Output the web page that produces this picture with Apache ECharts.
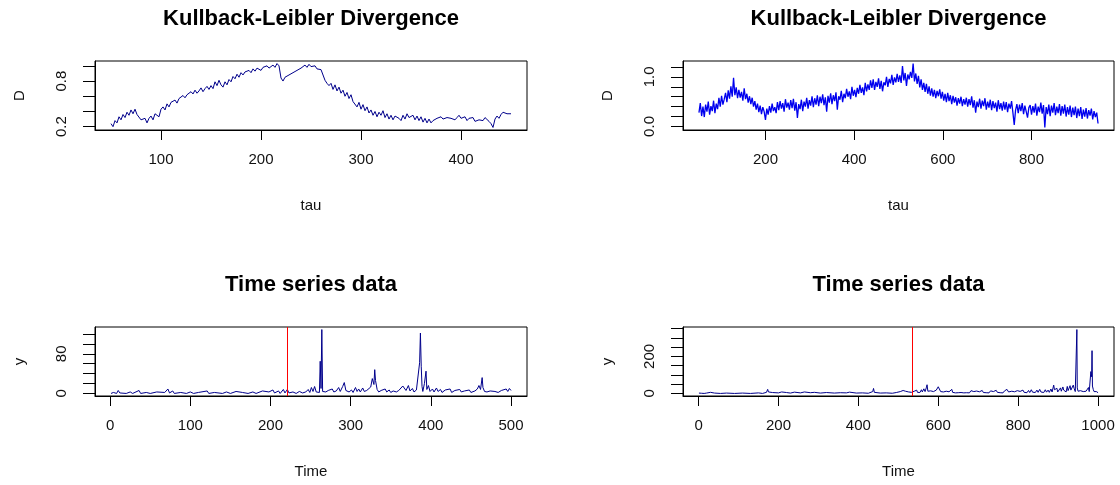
<!DOCTYPE html>
<html>
<head>
<meta charset="utf-8">
<title>Kullback-Leibler Divergence</title>
<script src="https://cdn.jsdelivr.net/npm/echarts@6/dist/echarts.min.js"></script>
<style>
  html, body { margin: 0; padding: 0; background: #fff; }
  #chart { width: 1120px; height: 485px; }
</style>
</head>
<body>
<div id="chart"></div>
<script>
// top-left: KL divergence, tau = 50, 52, ..., 450
const klLeftTau0 = 50;
const klLeftStep = 2;
const klLeftD = [
  0.24, 0.20, 0.28, 0.25, 0.33, 0.29, 0.36, 0.32, 0.39, 0.35,
  0.42, 0.37, 0.43, 0.36, 0.35, 0.29, 0.27, 0.31, 0.25, 0.31,
  0.34, 0.29, 0.37, 0.35, 0.33, 0.43, 0.46, 0.42, 0.50, 0.46,
  0.52, 0.50, 0.55, 0.51, 0.57, 0.55, 0.61, 0.58, 0.62, 0.60,
  0.66, 0.63, 0.68, 0.64, 0.67, 0.71, 0.66, 0.70, 0.73, 0.69,
  0.74, 0.70, 0.79, 0.74, 0.81, 0.75, 0.72, 0.79, 0.75, 0.82,
  0.79, 0.86, 0.83, 0.89, 0.85, 0.91, 0.88, 0.92, 0.90, 0.94,
  0.91, 0.96, 0.93, 0.97, 0.95, 0.94, 0.98, 0.96, 1.00, 0.97,
  0.99, 1.01, 0.98, 1.03, 1.00, 0.84, 0.80, 0.85, 0.83, 0.88,
  0.86, 0.91, 0.89, 0.94, 0.92, 0.97, 0.95, 1.01, 0.98, 1.02,
  0.99, 0.97, 1.00, 0.96, 0.98, 0.95, 0.93, 0.81, 0.77, 0.74,
  0.77, 0.69, 0.75, 0.67, 0.72, 0.64, 0.68, 0.60, 0.65, 0.57,
  0.62, 0.53, 0.54, 0.46, 0.52, 0.43, 0.49, 0.41, 0.46, 0.38,
  0.42, 0.35, 0.40, 0.33, 0.39, 0.35, 0.41, 0.32, 0.37, 0.30,
  0.35, 0.29, 0.34, 0.36, 0.31, 0.28, 0.35, 0.30, 0.37, 0.32,
  0.32, 0.35, 0.29, 0.34, 0.28, 0.33, 0.26, 0.31, 0.25, 0.30,
  0.25, 0.28, 0.26, 0.31, 0.29, 0.33, 0.30, 0.28, 0.32, 0.34,
  0.31, 0.33, 0.29, 0.32, 0.35, 0.31, 0.30, 0.33, 0.28, 0.31,
  0.29, 0.32, 0.27, 0.25, 0.29, 0.31, 0.28, 0.32, 0.30, 0.27,
  0.24, 0.19, 0.30, 0.34, 0.31, 0.36, 0.39, 0.41, 0.37, 0.39,
  0.37
];

// top-right: KL divergence, tau = 50, 53, ..., 950
const klRightTau0 = 50;
const klRightStep = 3;
const klRightD = [
  0.28, 0.47, 0.21, 0.40, 0.19, 0.44, 0.30, 0.50, 0.24, 0.41,
  0.31, 0.52, 0.27, 0.46, 0.35, 0.58, 0.40, 0.62, 0.44, 0.55,
  0.68, 0.49, 0.73, 0.56, 0.81, 0.60, 0.98, 0.63, 0.79, 0.57,
  0.74, 0.58, 0.70, 0.52, 0.77, 0.55, 0.66, 0.48, 0.61, 0.45,
  0.58, 0.40, 0.51, 0.34, 0.46, 0.29, 0.42, 0.25, 0.39, 0.30,
  0.13, 0.36, 0.24, 0.41, 0.28, 0.46, 0.31, 0.39, 0.27, 0.49,
  0.33, 0.51, 0.36, 0.47, 0.30, 0.55, 0.38, 0.48, 0.34, 0.53,
  0.37, 0.56, 0.32, 0.49, 0.17, 0.45, 0.35, 0.54, 0.31, 0.50,
  0.40, 0.58, 0.36, 0.53, 0.42, 0.61, 0.39, 0.57, 0.44, 0.63,
  0.41, 0.60, 0.47, 0.65, 0.43, 0.59, 0.30, 0.62, 0.48, 0.67,
  0.45, 0.63, 0.51, 0.69, 0.34, 0.61, 0.54, 0.72, 0.49, 0.66,
  0.57, 0.76, 0.60, 0.71, 0.55, 0.80, 0.62, 0.74, 0.59, 0.78,
  0.66, 0.84, 0.68, 0.79, 0.63, 0.88, 0.71, 0.85, 0.74, 0.93,
  0.78, 0.95, 0.74, 0.90, 0.80, 0.97, 0.76, 0.92, 0.71, 0.89,
  0.83, 1.00, 0.80, 0.96, 0.87, 1.04, 0.84, 0.99, 0.89, 1.06,
  0.90, 1.03, 0.88, 1.22, 0.93, 1.08, 0.82, 1.05, 0.95, 1.10,
  0.98, 1.27, 0.91, 1.07, 0.86, 1.02, 0.79, 0.95, 0.74, 0.88,
  0.70, 0.86, 0.66, 0.81, 0.62, 0.77, 0.60, 0.74, 0.57, 0.72,
  0.61, 0.75, 0.56, 0.70, 0.52, 0.66, 0.49, 0.68, 0.51, 0.63,
  0.45, 0.62, 0.48, 0.59, 0.42, 0.57, 0.46, 0.60, 0.41, 0.55,
  0.44, 0.58, 0.40, 0.55, 0.43, 0.61, 0.38, 0.53, 0.28, 0.50,
  0.39, 0.56, 0.36, 0.52, 0.41, 0.57, 0.34, 0.50, 0.38, 0.54,
  0.33, 0.51, 0.37, 0.48, 0.30, 0.53, 0.35, 0.47, 0.32, 0.50,
  0.34, 0.49, 0.29, 0.46, 0.36, 0.51, 0.28, 0.03, 0.33, 0.45,
  0.27, 0.44, 0.31, 0.47, 0.25, 0.42, 0.30, 0.18, 0.38, 0.43,
  0.24, 0.41, 0.28, 0.46, 0.22, 0.40, 0.29, 0.48, 0.26, 0.43,
  -0.02, 0.39, 0.25, 0.44, 0.21, 0.42, 0.28, 0.47, 0.23, 0.40,
  0.27, 0.45, 0.22, 0.41, 0.26, 0.44, 0.20, 0.39, 0.24, 0.42,
  0.19, 0.38, 0.23, 0.40, 0.17, 0.36, 0.21, 0.39, 0.15, 0.34,
  0.20, 0.37, 0.16, 0.33, 0.22, 0.36, 0.14, 0.31, 0.19, 0.28,
  0.06
];

// bottom-left: time series, [Time, y]
const tsLeft = [
  [1,0],[4,2],[6,5],[8,0],[10,6],[12,1],[20,0],[25,3],[28,0],[36,6],[38,0],[45,2],[50,0],
  [58,3],[60,0],[68,2],[72,9],[74,1],[78,5],[80,0],[88,2],[95,0],[100,3],[104,0],[110,2],
  [121,5],[123,0],[130,2],[140,0],[145,3],[150,0],[157,4],[159,0],[165,2],[172,0],[178,3],
  [182,0],[190,5],[192,1],[198,3],[203,7],[205,1],[210,5],[212,0],[216,8],[218,1],[221,8],
  [223,1],[228,3],[232,0],[236,4],[240,1],[244,3],[247,8],[249,2],[251,12],[253,4],[255,14],
  [257,3],[259,6],[261,2],[262,65],[263,10],[264,129],[265,4],[267,8],[269,3],[272,6],[274,2],
  [277,9],[279,3],[282,5],[285,12],[287,4],[290,14],[292,22],[294,6],[296,10],[298,3],[301,7],
  [303,2],[306,12],[308,4],[310,9],[312,3],[315,11],[317,4],[320,6],[322,2],[325,13],[327,30],
  [329,18],[330,48],[331,26],[333,8],[335,3],[338,6],[340,2],[343,9],[345,3],[348,7],[350,2],
  [353,5],[355,8],[357,3],[360,6],[362,2],[365,15],[367,19],[369,6],[372,16],[374,5],[377,10],
  [379,3],[382,7],[384,3],[386,62],[387,122],[388,55],[389,14],[390,4],[392,20],[394,45],
  [395,8],[397,16],[399,4],[402,9],[404,3],[407,11],[409,4],[412,8],[414,2],[418,7],[420,3],
  [424,9],[426,2],[430,6],[432,2],[436,8],[438,3],[442,5],[444,2],[448,7],[450,2],[455,5],
  [458,9],[460,16],[462,8],[464,32],[465,12],[467,4],[470,3],[474,5],[476,2],[480,4],[484,2],
  [488,6],[490,2],[494,9],[496,4],[498,10],[500,6]
];

// bottom-right: time series, [Time, y]
const tsRight = [
  [1,2],[5,8],[7,1],[12,5],[14,0],[20,2],[30,6],[32,0],[40,2],[55,0],[70,2],[90,0],[110,2],
  [130,0],[150,3],[160,0],[170,6],[173,22],[175,8],[178,1],[185,5],[188,0],[200,3],[208,8],
  [210,1],[220,5],[222,0],[230,2],[240,7],[242,0],[255,3],[265,8],[267,0],[280,4],[290,6],
  [292,0],[305,2],[320,5],[322,0],[340,2],[355,4],[357,0],[370,3],[378,7],[380,0],[395,2],
  [410,3],[425,1],[436,10],[438,27],[440,6],[442,0],[455,2],[470,3],[485,1],[495,5],[500,2],
  [505,10],[508,4],[512,16],[515,6],[518,12],[521,3],[526,8],[528,2],[533,6],[536,3],[540,12],
  [542,4],[546,18],[548,6],[552,14],[554,5],[558,20],[560,8],[564,25],[567,10],[570,30],
  [572,47],[574,12],[578,6],[581,14],[584,4],[588,10],[591,3],[595,18],[598,25],[600,36],
  [602,28],[604,42],[606,10],[609,4],[613,8],[616,3],[620,12],[623,4],[627,9],[630,3],[634,22],
  [636,6],[640,10],[643,3],[647,8],[650,4],[654,14],[657,5],[661,9],[664,3],[668,12],[671,4],
  [675,8],[678,3],[682,15],[685,5],[689,10],[692,3],[696,13],[699,4],[703,9],[706,3],[710,16],
  [713,5],[717,11],[720,4],[724,9],[727,3],[731,14],[734,5],[738,10],[741,3],[745,17],[748,6],
  [752,12],[755,4],[759,8],[762,3],[766,14],[769,5],[772,22],[774,28],[776,8],[780,5],[784,12],
  [787,4],[791,9],[794,3],[798,15],[801,5],[805,11],[808,4],[812,18],[815,6],[819,12],[822,4],
  [826,16],[829,5],[833,20],[836,7],[840,14],[843,5],[847,18],[850,6],[854,22],[857,8],[861,15],
  [864,5],[868,20],[871,7],[875,18],[878,6],[882,24],[885,8],[889,45],[891,20],[894,10],[897,28],
  [899,8],[903,15],[906,30],[908,12],[912,35],[914,18],[917,22],[920,8],[923,38],[925,15],
  [928,25],[930,42],[932,18],[935,12],[938,45],[940,28],[943,10],[945,8],[947,345],[948,30],
  [950,12],[953,6],[956,15],[959,8],[963,10],[966,4],[970,12],[973,20],[976,32],[978,10],
  [980,18],[982,118],[984,90],[985,231],[986,40],[988,22],[990,10],[993,6],[996,10],[998,5],
  [1000,4]
];

// change points (red vertical lines)
const tsLeftChange = 221;
const tsRightChange = 534;

// axis ticks and the labels R kept after dropping overlaps
const klLeftXTicks = [100, 200, 300, 400];
const klLeftYTicks = [0.2, 0.4, 0.6, 0.8, 1.0];
const klLeftYLabels = [0.2, 0.8];
const klRightXTicks = [200, 400, 600, 800];
const klRightYTicks = [0.0, 0.2, 0.4, 0.6, 0.8, 1.0, 1.2];
const klRightYLabels = [0.0, 1.0];
const tsLeftXTicks = [0, 100, 200, 300, 400, 500];
const tsLeftYTicks = [0, 20, 40, 60, 80, 100, 120];
const tsLeftYLabels = [0, 80];
const tsRightXTicks = [0, 200, 400, 600, 800, 1000];
const tsRightYTicks = [0, 50, 100, 150, 200, 250, 300, 350];
const tsRightYLabels = [0, 200];

const FONT = 'Liberation Sans, Arial, sans-serif';
const TEXT = '#111';

// R-style axis range: data range padded by 4% on each side
function rRange(vals) {
    const lo = Math.min(...vals), hi = Math.max(...vals);
    const pad = (hi - lo) * 0.04;
    return [lo - pad, hi + pad];
}

const klLeftData = klLeftD.map((d, i) => [klLeftTau0 + i * klLeftStep, d]);
const klRightData = klRightD.map((d, i) => [klRightTau0 + i * klRightStep, d]);

const panels = [
    { grid: { left: 95, top: 61, width: 432, height: 69 }, data: klLeftData, color: '#00008b', width: 1,
      title: 'Kullback-Leibler Divergence', xName: 'tau', yName: 'D',
      xTicks: klLeftXTicks, yTicks: klLeftYTicks, yLabels: klLeftYLabels, yFmt: v => v.toFixed(1) },
    { grid: { left: 683, top: 61, width: 431, height: 69 }, data: klRightData, color: '#0000ee', width: 1.3,
      title: 'Kullback-Leibler Divergence', xName: 'tau', yName: 'D',
      xTicks: klRightXTicks, yTicks: klRightYTicks, yLabels: klRightYLabels, yFmt: v => v.toFixed(1) },
    { grid: { left: 95, top: 327, width: 432, height: 69 }, data: tsLeft, color: '#00008b', width: 1,
      title: 'Time series data', xName: 'Time', yName: 'y', change: tsLeftChange,
      xTicks: tsLeftXTicks, yTicks: tsLeftYTicks, yLabels: tsLeftYLabels, yFmt: v => String(v) },
    { grid: { left: 683, top: 327, width: 431, height: 69 }, data: tsRight, color: '#00008b', width: 1,
      title: 'Time series data', xName: 'Time', yName: 'y', change: tsRightChange,
      xTicks: tsRightXTicks, yTicks: tsRightYTicks, yLabels: tsRightYLabels, yFmt: v => String(v) }
];

const option = {
    animation: false,
    backgroundColor: '#fff',
    title: panels.map(p => ({
        text: p.title,
        left: p.grid.left + p.grid.width / 2,
        top: p.grid.top - 53,
        textAlign: 'center',
        padding: 0,
        textStyle: { fontFamily: FONT, fontWeight: 'bold', fontSize: 22, color: '#000' }
    })),
    grid: panels.map(p => ({ ...p.grid, show: true, borderColor: '#000', borderWidth: 1 })),
    xAxis: panels.map((p, i) => {
        const [lo, hi] = rRange(p.data.map(d => d[0]));
        return {
            type: 'value', gridIndex: i, min: lo, max: hi,
            name: p.xName, nameLocation: 'middle', nameGap: 68,
            nameTextStyle: { fontFamily: FONT, fontSize: 15, color: TEXT },
            splitLine: { show: false },
            axisLine: { show: true, onZero: false, lineStyle: { color: '#000' } },
            axisTick: { show: true, length: 10, customValues: p.xTicks, lineStyle: { color: '#000' } },
            axisLabel: { customValues: p.xTicks, margin: 22, formatter: v => String(v),
                         fontFamily: FONT, fontSize: 15, color: TEXT }
        };
    }),
    yAxis: panels.map((p, i) => {
        const [lo, hi] = rRange(p.data.map(d => d[1]));
        return {
            type: 'value', gridIndex: i, min: lo, max: hi,
            name: p.yName, nameLocation: 'middle', nameGap: 68, nameRotate: 90,
            nameTextStyle: { fontFamily: FONT, fontSize: 15, color: TEXT },
            splitLine: { show: false },
            axisLine: { show: true, onZero: false, lineStyle: { color: '#000' } },
            axisTick: { show: true, length: 12, customValues: p.yTicks, lineStyle: { color: '#000' } },
            axisLabel: { customValues: p.yLabels, rotate: 90, margin: 26, formatter: p.yFmt,
                         fontFamily: FONT, fontSize: 15, color: TEXT }
        };
    }),
    series: panels.map((p, i) => ({
        type: 'line', xAxisIndex: i, yAxisIndex: i,
        data: p.data, showSymbol: false, symbol: 'none',
        lineStyle: { color: p.color, width: p.width },
        markLine: p.change === undefined ? undefined : {
            silent: true, symbol: 'none', label: { show: false },
            emphasis: { disabled: true },
            lineStyle: { color: '#ff0000', width: 1, type: 'solid', opacity: 1 },
            data: [{ xAxis: p.change }]
        }
    }))
};

const chart = echarts.init(document.getElementById('chart'));
chart.setOption(option);
</script>
</body>
</html>
